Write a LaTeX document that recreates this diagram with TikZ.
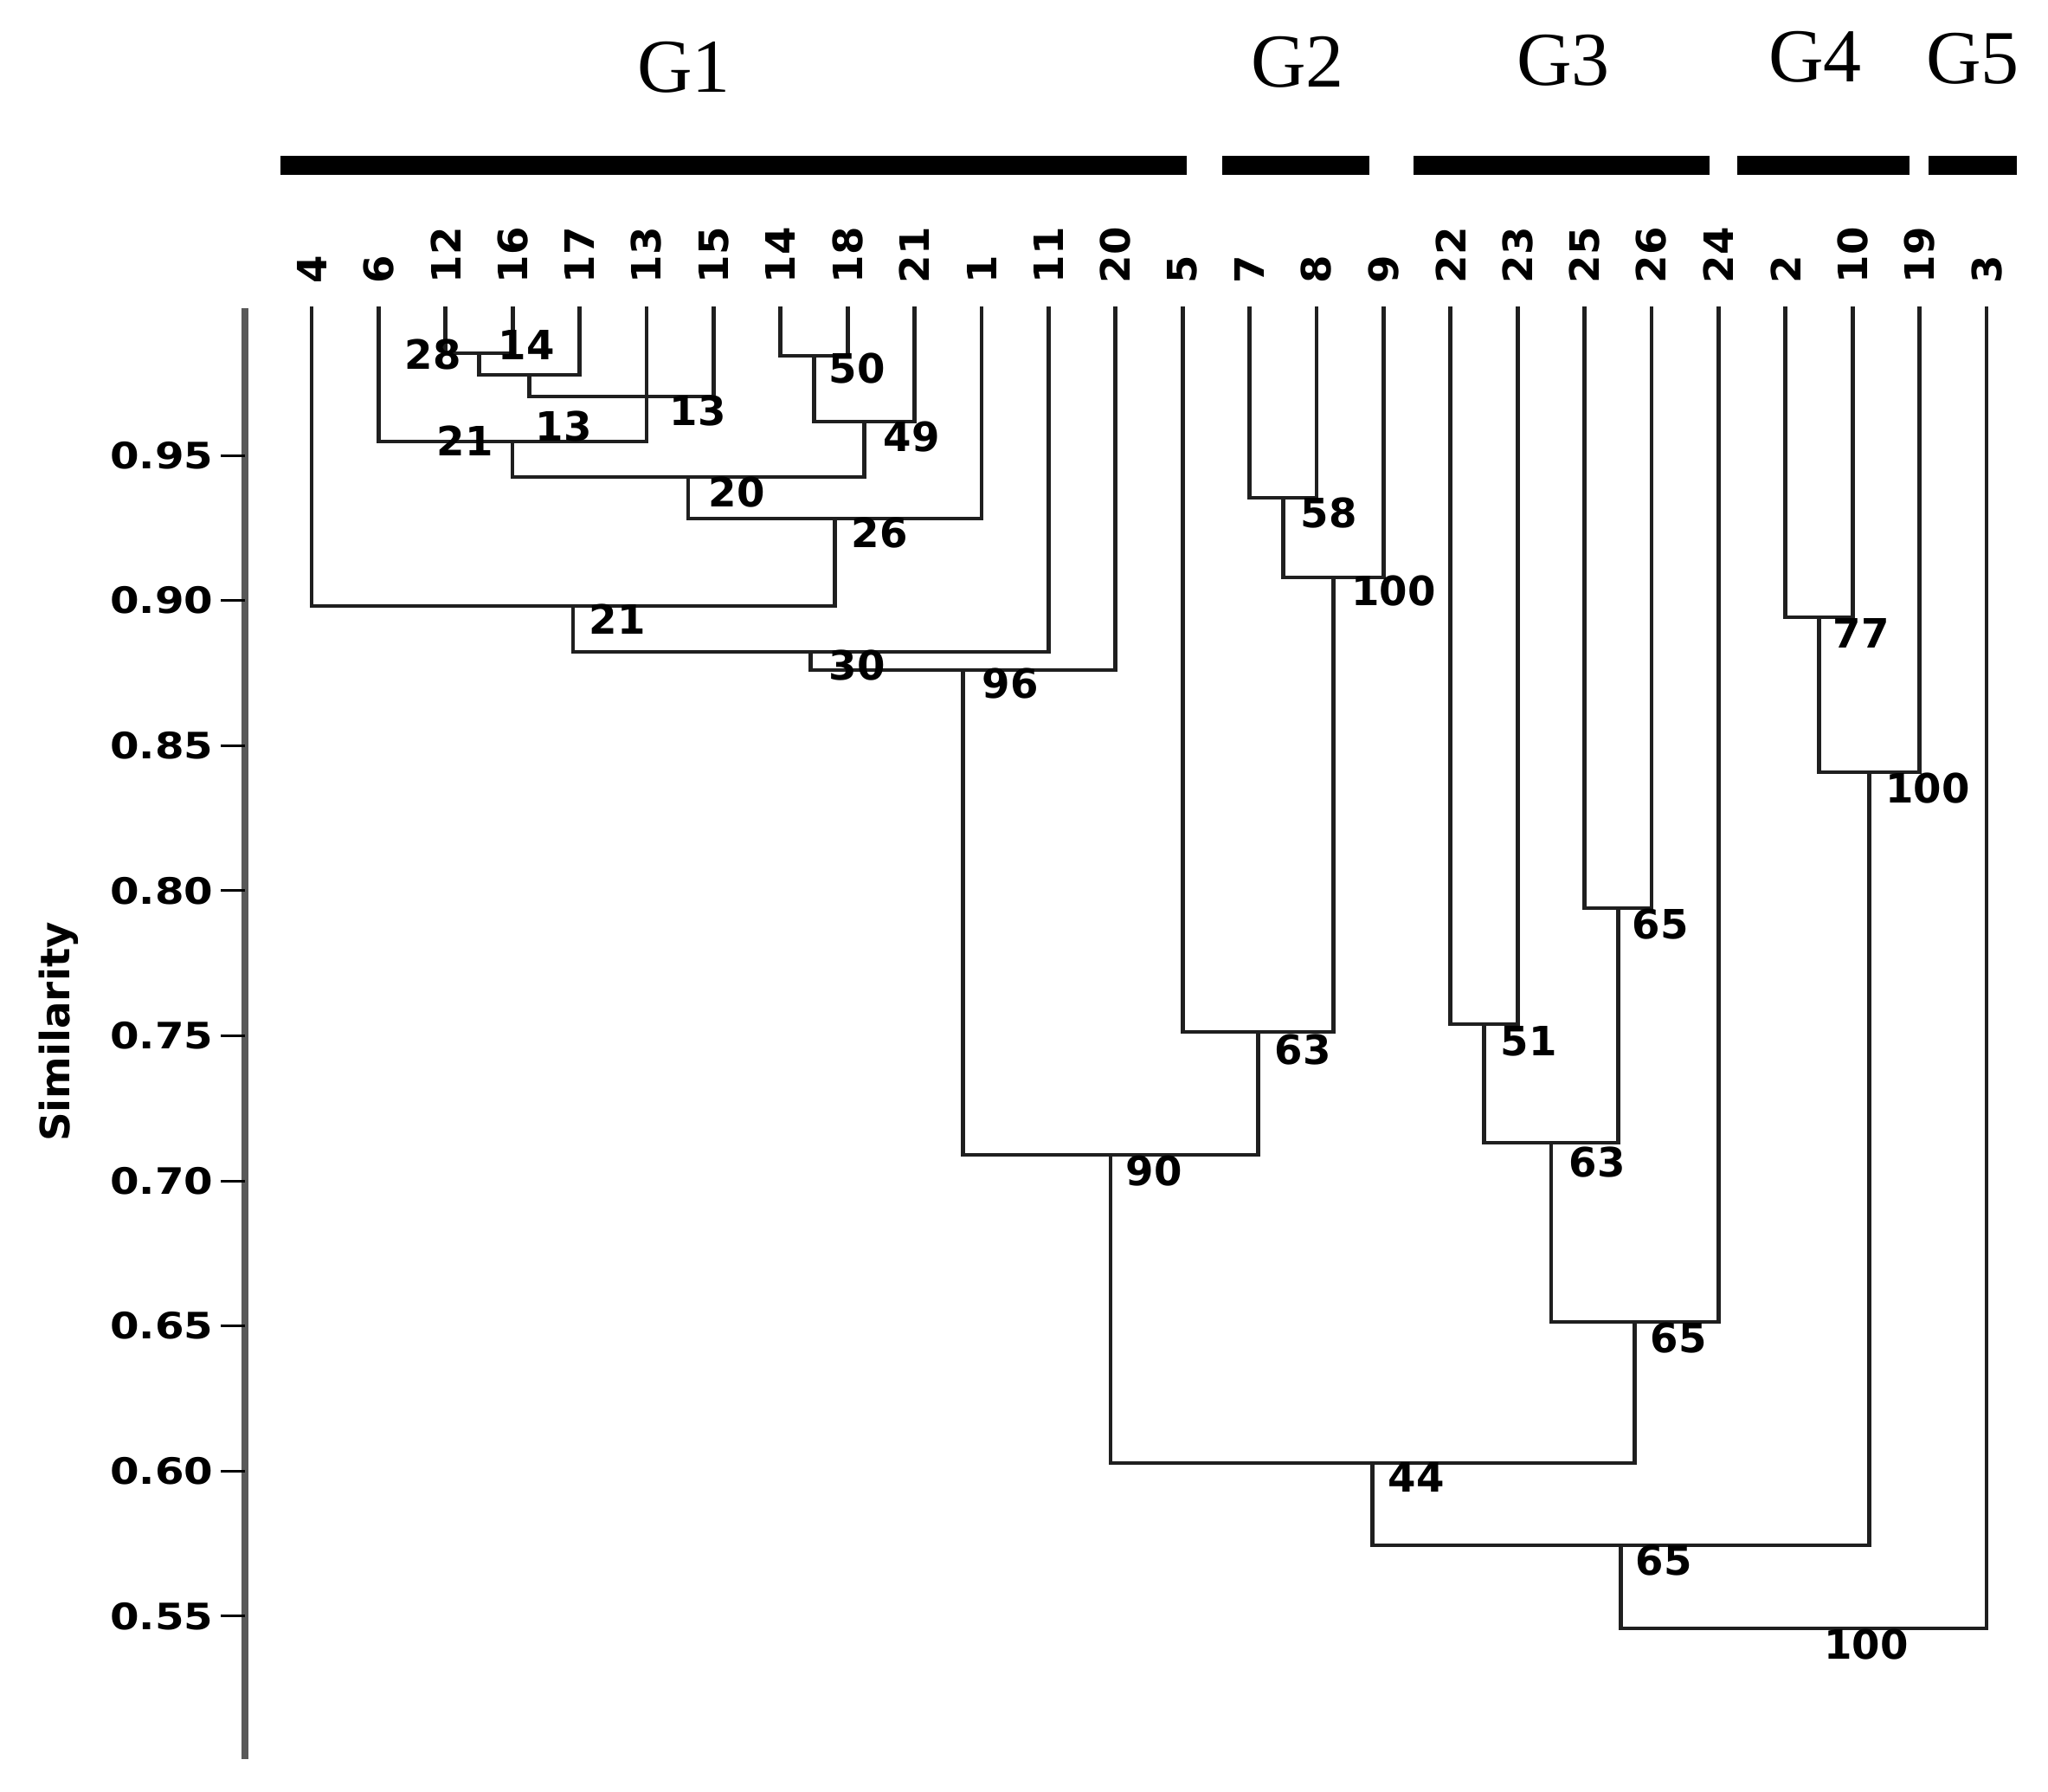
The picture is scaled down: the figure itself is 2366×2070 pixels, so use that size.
\documentclass[tikz,border=0pt]{standalone}
\usepackage{fontspec}
\newfontfamily\dv{DejaVu Sans}
\newfontfamily\gser{Liberation Serif}
\begin{document}
\begin{tikzpicture}[x=0.3pt,y=-0.3pt,
  tree/.style={line width=1.4pt, draw=black!88, line join=miter, line cap=rect},
  axisline/.style={line width=2.4pt, draw=black!65},
  tickline/.style={line width=0.9pt, draw=black},
  leaflab/.style={font=\dv\bfseries\fontsize{14}{14}\selectfont, rotate=90, anchor=west, inner sep=0pt},
  boot/.style={font=\dv\bfseries\fontsize{14}{14}\selectfont, inner sep=0pt},
  ticklab/.style={font=\dv\bfseries\fontsize{12.6}{12.6}\selectfont, xscale=1.15, anchor=east, inner sep=0pt},
  grp/.style={font=\gser\fontsize{26.4}{26.4}\selectfont, inner sep=0pt},
  grpbar/.style={fill=black}]
\useasboundingbox (0,0) rectangle (2366,2070);

% group headers
\node[grp] (G1) at (790,78) {G1};
\node[grp] (G2) at (1499,72) {G2};
\node[grp] (G3) at (1806,70) {G3};
\node[grp] (G4) at (2097,66) {G4};
\node[grp] (G5) at (2279,68) {G5};
\fill[grpbar] (324,180) rectangle (1371,202);
\fill[grpbar] (1412,180) rectangle (1582,202);
\fill[grpbar] (1633,180) rectangle (1975,202);
\fill[grpbar] (2007,180) rectangle (2206,202);
\fill[grpbar] (2228,180) rectangle (2330,202);

% axis
\draw[axisline] (283,356) -- (283,2032);
\foreach \v [count=\k from 0] in {0.95,0.90,0.85,0.80,0.75,0.70,0.65,0.60,0.55} {
  \draw[tickline] (255,{526+167.6*\k}) -- (283,{526+167.6*\k});
  \node[ticklab] (tk\k) at (247,{526+167.6*\k}) {\v};
}
\node[font=\dv\bfseries\fontsize{14}{14}\selectfont, rotate=90, inner sep=0pt] (ylab) at (68,1192) {Similarity};

% leaves
\foreach \lab [count=\i from 0] in {4,6,12,16,17,13,15,14,18,21,1,11,20,5,7,8,9,22,23,25,26,24,2,10,19,3} {
  \coordinate (l\lab) at ({360+77.4*\i},356);
  \node[leaflab] (t\lab) at ({360+77.4*\i},328) {\lab};
}

% internal nodes
\coordinate (n1) at (553.5,408);
\coordinate (n2) at (611.6,433);
\coordinate (n3) at (718,458);
\coordinate (n4) at (592,510);
\coordinate (n5) at (940.5,411);
\coordinate (n6) at (998.6,487);
\coordinate (n7) at (795,551);
\coordinate (n8) at (964.5,599);
\coordinate (n9) at (662,700);
\coordinate (n10) at (936.7,753);
\coordinate (n11) at (1112.8,774);
\coordinate (n12) at (1482.3,575);
\coordinate (n13) at (1540.4,667);
\coordinate (n14) at (1453.3,1192);
\coordinate (n15) at (1283,1334);
\coordinate (n16) at (1714.5,1183);
\coordinate (n17) at (1869.3,1049);
\coordinate (n18) at (1791.9,1320);
\coordinate (n19) at (1888.6,1527);
\coordinate (n20) at (1585.8,1690);
\coordinate (n21) at (2101.5,713);
\coordinate (n22) at (2159.5,892);
\coordinate (n23) at (1872.7,1785);
\coordinate (n24) at (2083.9,1881);

\draw[tree] (l12) |- (n1) -| (l16);
\draw[tree] (n1) |- (n2) -| (l17);
\draw[tree] (n2) |- (n3) -| (l15);
\draw[tree] (l6) |- (n4) -| (l13);
\draw[tree] (l14) |- (n5) -| (l18);
\draw[tree] (n5) |- (n6) -| (l21);
\draw[tree] (n4) |- (n7) -| (n6);
\draw[tree] (n7) |- (n8) -| (l1);
\draw[tree] (l4) |- (n9) -| (n8);
\draw[tree] (n9) |- (n10) -| (l11);
\draw[tree] (n10) |- (n11) -| (l20);
\draw[tree] (l7) |- (n12) -| (l8);
\draw[tree] (n12) |- (n13) -| (l9);
\draw[tree] (l5) |- (n14) -| (n13);
\draw[tree] (n11) |- (n15) -| (n14);
\draw[tree] (l22) |- (n16) -| (l23);
\draw[tree] (l25) |- (n17) -| (l26);
\draw[tree] (n16) |- (n18) -| (n17);
\draw[tree] (n18) |- (n19) -| (l24);
\draw[tree] (n15) |- (n20) -| (n19);
\draw[tree] (l2) |- (n21) -| (l10);
\draw[tree] (n21) |- (n22) -| (l19);
\draw[tree] (n20) |- (n23) -| (n22);
\draw[tree] (n23) |- (n24) -| (l3);

% bootstrap labels
\node[boot] (b28) at (500,409) {28};
\node[boot] (b14) at (608,398) {14};
\node[boot] (b13a) at (806,474) {13};
\node[boot] (b13b) at (651,492) {13};
\node[boot] (b21a) at (537,509) {21};
\node[boot] (b50) at (990,425) {50};
\node[boot] (b49) at (1053,505) {49};
\node[boot] (b20) at (851,568) {20};
\node[boot] (b26) at (1016,615) {26};
\node[boot] (b21b) at (713,715) {21};
\node[boot] (b30) at (990,768) {30};
\node[boot] (b96) at (1167,790) {96};
\node[boot] (b58) at (1535,592) {58};
\node[boot] (b100a) at (1610,682) {100};
\node[boot] (b63a) at (1505,1212) {63};
\node[boot] (b90) at (1333,1352) {90};
\node[boot] (b51) at (1766,1203) {51};
\node[boot] (b65a) at (1918,1068) {65};
\node[boot] (b63b) at (1845,1342) {63};
\node[boot] (b65b) at (1939,1546) {65};
\node[boot] (b44) at (1636,1706) {44};
\node[boot] (b77) at (2150,731) {77};
\node[boot] (b100b) at (2227,910) {100};
\node[boot] (b65c) at (1922,1803) {65};
\node[boot] (b100c) at (2156,1899) {100};
\end{tikzpicture}
\end{document}
